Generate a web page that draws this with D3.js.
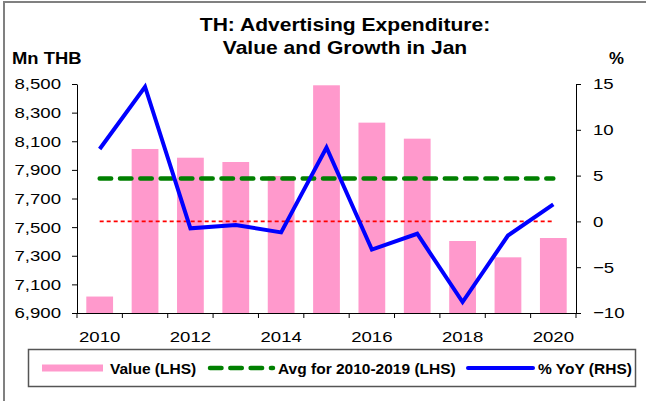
<!DOCTYPE html>
<html>
<head>
<meta charset="utf-8">
<script src="https://cdn.jsdelivr.net/npm/d3@7"></script>
<style>
  body { margin: 0; background: #fff; }
  svg { display: block; font-family: "Liberation Sans", Arial, sans-serif; }
</style>
</head>
<body>
<div id="chart"></div>
<script>
// TH advertising expenditure, January values (Mn THB) and % YoY
var years = ["2010", "2011", "2012", "2013", "2014", "2015", "2016", "2017", "2018", "2019", "2020"];
var values = [7015, 8046, 7985, 7955, 7857, 8491, 8230, 8118, 7403, 7289, 7424];
var yoy = [7.9, 14.7, -0.76, -0.4, -1.2, 8.07, -3.07, -1.35, -8.8, -1.54, 1.85];
var avgValue = 7839;   // Avg for 2010-2019
var leftTicks = [6900, 7100, 7300, 7500, 7700, 7900, 8100, 8300, 8500];
var rightTicks = [-10, -5, 0, 5, 10, 15];
var xLabels = ["2010", "2012", "2014", "2016", "2018", "2020"];

var width = 646, height = 401;
var plot = {left: 77, right: 576, top: 84, bottom: 313};
var sx = 1.2; // text looks horizontally stretched in the reference

var svg = d3.select("#chart").append("svg")
    .attr("width", width)
    .attr("height", height);

svg.append("rect").attr("width", width).attr("height", height).attr("fill", "#fff");

// frame (only top + left edges show)
svg.append("path")
    .attr("d", "M4,401V2H646")
    .attr("fill", "none")
    .attr("stroke", "#808080")
    .attr("stroke-width", 2);

var x = d3.scaleBand()
    .domain(years)
    .range([plot.left, plot.right])
    .paddingInner(0.41)
    .paddingOuter(0.205);

var y = d3.scaleLinear()
    .domain([6900, 8500])
    .range([plot.bottom, plot.top]);

var y2 = d3.scaleLinear()
    .domain([-10, 15])
    .range([plot.bottom, plot.top]);

function cx(d) { return x(d) + x.bandwidth() / 2; }

// bars
svg.append("g").selectAll("rect")
    .data(years)
  .enter().append("rect")
    .attr("x", function(d) { return x(d); })
    .attr("y", function(d, i) { return y(values[i]); })
    .attr("width", x.bandwidth())
    .attr("height", function(d, i) { return plot.bottom - y(values[i]); })
    .attr("fill", "#ff99cc");

// zero line on RHS
svg.append("path")
    .datum(years)
    .attr("d", d3.line().x(cx).y(function() { return y2(0); }))
    .attr("fill", "none")
    .attr("stroke", "#ff0000")
    .attr("stroke-width", 1.6)
    .attr("stroke-dasharray", "4,3");

// average line
svg.append("path")
    .datum(years)
    .attr("d", d3.line().x(cx).y(function() { return y(avgValue); }))
    .attr("fill", "none")
    .attr("stroke", "#008000")
    .attr("stroke-width", 4.5)
    .attr("stroke-linecap", "round")
    .attr("stroke-dasharray", "11.5,8.8");

// yoy line
svg.append("path")
    .datum(years)
    .attr("d", d3.line().x(cx).y(function(d, i) { return y2(yoy[i]); }))
    .attr("fill", "none")
    .attr("stroke", "#0000ff")
    .attr("stroke-width", 4);

// axes
function stretchText(g, off, anchor) {
  g.selectAll("text")
      .attr("x", 0)
      .attr("text-anchor", anchor)
      .attr("transform", "translate(" + off + ",0) scale(" + sx + ",1)");
}

var gl = svg.append("g")
    .attr("transform", "translate(" + plot.left + ",0)")
    .call(d3.axisLeft(y).tickValues(leftTicks).tickFormat(d3.format(","))
      .tickSize(5).tickSizeOuter(0).tickPadding(11));
stretchText(gl, -16, "end");

var gr = svg.append("g")
    .attr("transform", "translate(" + plot.right + ",0)")
    .call(d3.axisRight(y2).tickValues(rightTicks)
      .tickSize(5).tickSizeOuter(0).tickPadding(12));
stretchText(gr, 17, "start");

var gb = svg.append("g")
    .attr("transform", "translate(0," + plot.bottom + ")")
    .call(d3.axisBottom(x).tickValues(xLabels).tickSize(0).tickSizeOuter(0).tickPadding(18));
gb.selectAll("text").attr("transform", "scale(" + sx + ",1)")
    .attr("x", function() { return 0; });
gb.selectAll(".tick").each(function(d) {
  d3.select(this).attr("transform", "translate(" + cx(d) + ",0)");
});
gb.select(".domain").attr("d", "M" + plot.left + ",0.5H" + plot.right);

// tick marks between categories
var edges = years.map(function(d) { return cx(d) - x.step() / 2; });
edges.push(cx(years[years.length - 1]) + x.step() / 2);
gb.selectAll(".edge")
    .data(edges)
  .enter().append("line")
    .attr("class", "edge")
    .attr("x1", function(d) { return d; })
    .attr("x2", function(d) { return d; })
    .attr("y1", 0)
    .attr("y2", 5)
    .attr("stroke", "#000");

svg.selectAll(".tick text")
    .attr("font-size", 15.5)
    .attr("fill", "#000")
    .attr("font-family", "'Liberation Sans', Arial, sans-serif");
svg.selectAll(".domain, .tick line").attr("stroke", "#000");

// titles
var title = svg.append("g").attr("font-weight", "bold").attr("font-size", 18).attr("fill", "#000");
title.append("text")
    .attr("transform", "translate(345,31) scale(1.17,1)")
    .attr("text-anchor", "middle")
    .text("TH: Advertising Expenditure:");
title.append("text")
    .attr("transform", "translate(345,54) scale(1.17,1)")
    .attr("text-anchor", "middle")
    .text("Value and Growth in Jan");

svg.append("text")
    .attr("transform", "translate(12,64) scale(1.15,1)")
    .attr("font-weight", "bold")
    .attr("font-size", 16)
    .text("Mn THB");
svg.append("text")
    .attr("transform", "translate(609,64) scale(1.05,1)")
    .attr("font-weight", "bold")
    .attr("font-size", 16)
    .text("%");

// legend
var legend = svg.append("g");
legend.append("rect")
    .attr("x", 28.5).attr("y", 349.5)
    .attr("width", 607).attr("height", 37)
    .attr("fill", "#fff")
    .attr("stroke", "#555")
    .attr("stroke-width", 1.5);

var ly = 368;
legend.append("rect")
    .attr("x", 42).attr("y", ly - 3.5)
    .attr("width", 61).attr("height", 7)
    .attr("fill", "#ff99cc");
legend.append("line")
    .attr("x1", 210).attr("x2", 273).attr("y1", ly).attr("y2", ly)
    .attr("stroke", "#008000").attr("stroke-width", 4.5)
    .attr("stroke-linecap", "round").attr("stroke-dasharray", "11.5,8.8");
legend.append("line")
    .attr("x1", 468).attr("x2", 533).attr("y1", ly).attr("y2", ly)
    .attr("stroke", "#0000ff").attr("stroke-width", 4)
    .attr("stroke-linecap", "round");

var legendText = [["Value (LHS)", 110], ["Avg for 2010-2019 (LHS)", 278], ["% YoY (RHS)", 538]];
legend.selectAll(".lt")
    .data(legendText)
  .enter().append("text")
    .attr("class", "lt")
    .attr("x", function(d) { return d[1]; })
    .attr("y", 373.5)
    .attr("font-weight", "bold")
    .attr("font-size", 15.5)
    .attr("fill", "#000")
    .text(function(d) { return d[0]; });
</script>
</body>
</html>
